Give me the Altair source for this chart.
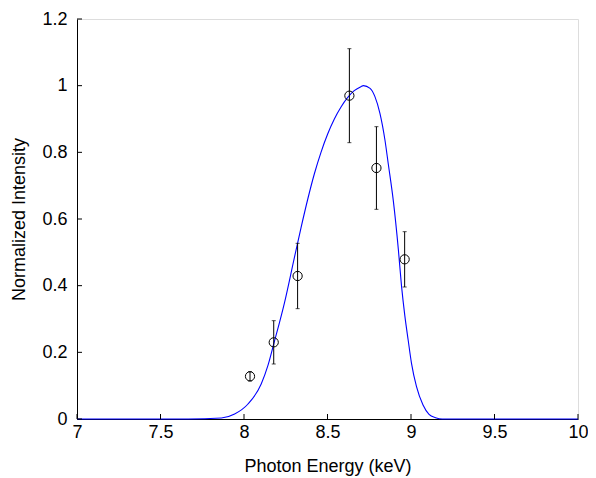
import altair as alt
import pandas as pd

# measured points
pt_x = [8.036, 8.178, 8.321, 8.631, 8.793, 8.962]
pt_y = [0.128, 0.230, 0.429, 0.970, 0.753, 0.479]
pt_err = [0.014, 0.065, 0.098, 0.141, 0.124, 0.083]

# fitted curve
curve_x = [7.0, 7.666, 7.865, 7.944, 8.024, 8.103, 8.143, 8.178, 8.243, 8.302, 8.342, 8.382,
           8.421, 8.461, 8.501, 8.541, 8.581, 8.620, 8.660, 8.700, 8.715, 8.755, 8.784,
           8.814, 8.844, 8.864, 8.894, 8.924, 8.943, 8.963, 8.983, 9.003, 9.033, 9.072,
           9.108, 9.147, 9.187, 10.0]
curve_y = [0, 0, 0.003, 0.015, 0.045, 0.105, 0.16, 0.225, 0.35, 0.485, 0.575, 0.66,
           0.735, 0.80, 0.855, 0.900, 0.936, 0.964, 0.985, 0.997, 1.0, 0.992, 0.967,
           0.917, 0.837, 0.765, 0.655, 0.51, 0.40, 0.31, 0.237, 0.167, 0.097, 0.042,
           0.014, 0.004, 0, 0]

x_ticks = [7, 7.5, 8, 8.5, 9, 9.5, 10]
y_ticks = [0, 0.2, 0.4, 0.6, 0.8, 1.0, 1.2]

W, H = 501, 400
FONT = "Liberation Sans"

pts = pd.DataFrame({"x": pt_x, "y": pt_y,
                    "lo": [a - b for a, b in zip(pt_y, pt_err)],
                    "hi": [a + b for a, b in zip(pt_y, pt_err)]})
cur = pd.DataFrame({"x": curve_x, "y": curve_y})
xt = pd.DataFrame({"v": x_ticks})
yt = pd.DataFrame({"v": y_ticks})

xscale = alt.Scale(domain=[7, 10], nice=False, zero=False)
yscale = alt.Scale(domain=[0, 1.2], nice=False)

xaxis = alt.Axis(title="Photon Energy (keV)", values=x_ticks, ticks=False, grid=False,
                 labelFontSize=18, titleFontSize=18, labelFont=FONT, titleFont=FONT,
                 labelColor="black", titleColor="black", titleFontWeight="normal",
                 domainColor="black", labelPadding=4, titleY=47, titleBaseline="middle",
                 labelFlush=False, labelOverlap=False,
                 labelExpr="format(datum.value, '')")
yaxis = alt.Axis(title="Normalized Intensity", values=y_ticks, ticks=False, grid=False,
                 labelFontSize=18, titleFontSize=18, labelFont=FONT, titleFont=FONT,
                 labelColor="black", titleColor="black", titleFontWeight="normal",
                 domainColor="black", labelPadding=10, titleX=-58, titleY=H / 2,
                 titleAngle=270, titleAlign="center", titleBaseline="middle",
                 labelFlush=False, labelOverlap=False,
                 labelExpr="format(datum.value, '')")

line = alt.Chart(cur).mark_line(color="#0000ff", strokeWidth=1.1, interpolate="monotone").encode(
    x=alt.X("x:Q", scale=xscale, axis=xaxis),
    y=alt.Y("y:Q", scale=yscale, axis=yaxis),
)

bars = alt.Chart(pts).mark_rule(color="black", strokeWidth=1).encode(
    x=alt.X("x:Q", scale=xscale), y=alt.Y("lo:Q", scale=yscale), y2="hi:Q")
cap_lo = alt.Chart(pts).mark_tick(color="black", orient="horizontal", size=4, thickness=1).encode(
    x=alt.X("x:Q", scale=xscale), y=alt.Y("lo:Q", scale=yscale))
cap_hi = alt.Chart(pts).mark_tick(color="black", orient="horizontal", size=4, thickness=1).encode(
    x=alt.X("x:Q", scale=xscale), y=alt.Y("hi:Q", scale=yscale))
circles = alt.Chart(pts).mark_point(shape="circle", filled=False, color="black",
                                    size=85, strokeWidth=1, opacity=1).encode(
    x=alt.X("x:Q", scale=xscale), y=alt.Y("y:Q", scale=yscale))

xtk = alt.Chart(xt).mark_rule(color="black", strokeWidth=1).encode(
    x=alt.X("v:Q", scale=xscale), y=alt.value(H), y2=alt.value(H - 5))
ytk = alt.Chart(yt).mark_rule(color="black", strokeWidth=1).encode(
    y=alt.Y("v:Q", scale=yscale), x=alt.value(0), x2=alt.value(5))

chart = alt.layer(line, xtk, ytk, bars, cap_lo, cap_hi, circles).properties(
    width=W, height=H,
    autosize=alt.AutoSizeParams(type="none"),
    padding={"left": 69, "top": 11, "right": 10, "bottom": 58},
).configure_view(stroke=None).configure(background="white")

chart.save("out.html", embed_options={"renderer": "svg", "actions": False})
